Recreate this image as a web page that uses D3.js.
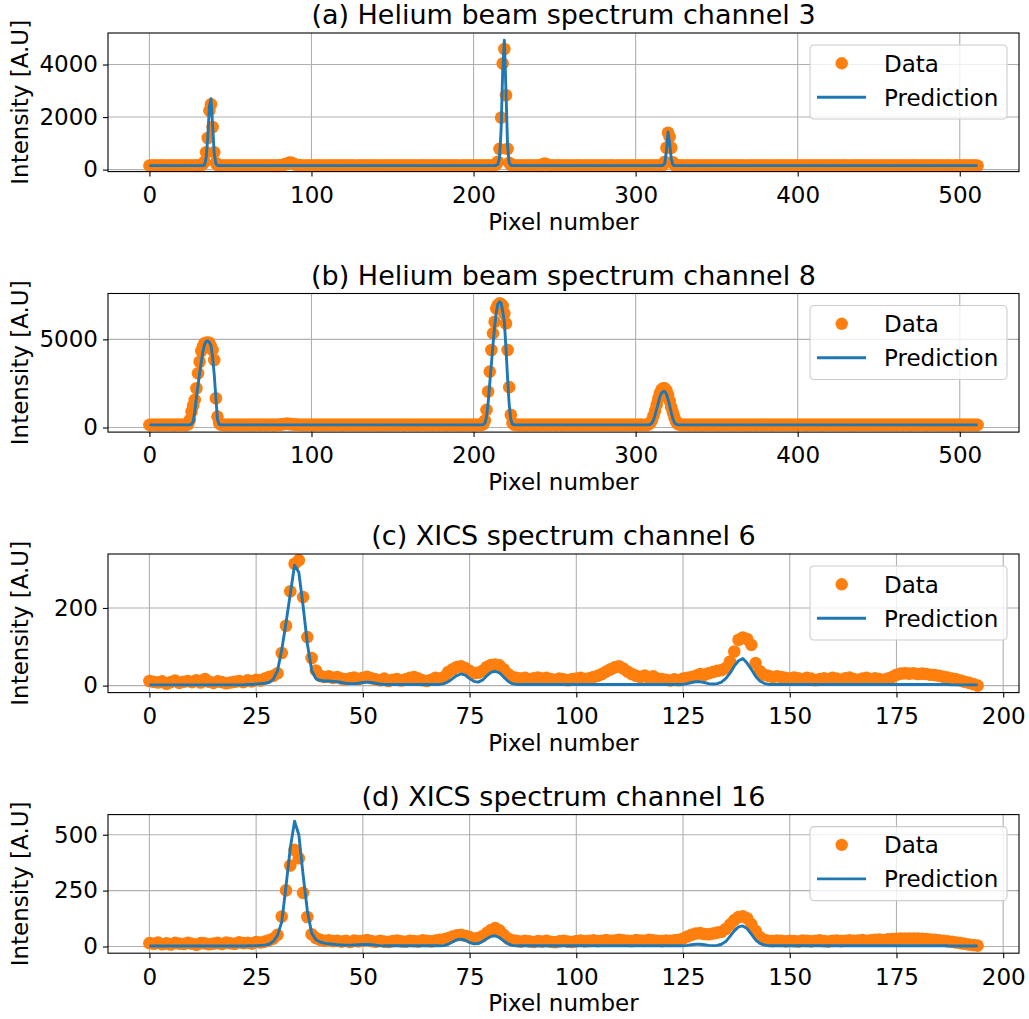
<!DOCTYPE html>
<html>
<head>
<meta charset="utf-8">
<script src="https://cdn.jsdelivr.net/npm/d3@7"></script>
<style>
  body { margin: 0; background: #fff; }
  svg { display: block; font-family: "DejaVu Sans", sans-serif; }
</style>
</head>
<body>
<div id="chart"></div>
<script>

// ---- chart data (index in the array = pixel number) ----

const panelTitles = [
    "(a) Helium beam spectrum channel 3",
    "(b) Helium beam spectrum channel 8",
    "(c) XICS spectrum channel 6",
    "(d) XICS spectrum channel 16"
];
const xLabel = "Pixel number";
const yLabel = "Intensity [A.U]";
const legendLabels = ["Data", "Prediction"];

const heliumXTicks = [0, 100, 200, 300, 400, 500];
const xicsXTicks = [0, 25, 50, 75, 100, 125, 150, 175, 200];
const ch3YTicks = [0, 2000, 4000];
const ch8YTicks = [0, 5000];
const ch6YTicks = [0, 200];
const ch16YTicks = [0, 250, 500];

// helium beam, channel 3 (512 pixels)
const heCh3Data = [
    152,148,150,155,149,151,147,153,150,156,148,151,149,154,150,147,
    151,153,149,150,155,148,152,150,147,153,151,149,156,150,152,158,
    175,210,300,660,1200,2250,2490,1620,660,250,170,155,150,148,153,151,
    149,152,150,147,154,151,148,150,153,149,151,155,148,150,152,149,
    151,147,153,150,149,152,156,148,150,151,149,153,150,147,152,155,
    158,165,175,190,210,235,255,265,250,225,195,175,162,155,151,149,
    152,148,150,155,149,151,147,153,150,156,148,151,149,154,150,147,
    151,153,149,150,155,148,152,150,147,153,151,149,156,150,152,149,
    149,152,150,147,154,151,148,150,153,149,151,155,148,150,152,149,
    151,147,153,150,149,152,156,148,150,151,149,153,150,147,152,155,
    152,148,150,155,149,151,147,153,150,156,148,151,149,154,150,147,
    151,153,149,150,155,148,152,150,147,153,151,149,156,150,152,149,
    149,152,150,147,154,151,148,150,153,149,151,155,148,150,152,149,
    150,152,149,153,158,170,200,300,790,1980,4040,4590,2830,790,260,170,
    155,151,149,152,150,148,153,150,147,151,154,149,150,152,148,151,
    153,158,175,210,230,205,170,155,150,148,152,150,149,153,151,147,
    152,148,150,155,149,151,147,153,150,156,148,151,149,154,150,147,
    151,153,149,150,155,148,152,150,147,153,151,149,156,150,152,149,
    149,152,150,147,154,151,148,150,153,149,151,155,148,150,152,149,
    151,147,153,150,149,152,156,148,150,151,149,153,158,180,300,830,
    1400,1240,830,280,175,155,151,149,152,150,148,153,150,147,151,154,
    152,148,150,155,149,151,147,153,150,156,148,151,149,154,150,147,
    151,153,149,150,155,148,152,150,147,153,151,149,156,150,152,149,
    149,152,150,147,154,151,148,150,153,149,151,155,148,150,152,149,
    151,147,153,150,149,152,156,148,150,151,149,153,150,147,152,155,
    152,148,150,155,149,151,147,153,150,156,148,151,149,154,150,147,
    151,153,149,150,155,148,152,150,147,153,151,149,156,150,152,149,
    149,152,150,147,154,151,148,150,153,149,151,155,148,150,152,149,
    151,147,153,150,149,152,156,148,150,151,149,153,150,147,152,155,
    152,148,150,155,149,151,147,153,150,156,148,151,149,154,150,147,
    151,153,149,150,155,148,152,150,147,153,151,149,156,150,152,149,
    149,152,150,147,154,151,148,150,153,149,151,155,148,150,152,149
];
const heCh3Pred = [
    150,150,150,150,150,150,150,150,150,150,150,150,150,150,150,150,
    150,150,150,150,150,150,150,150,150,150,150,150,150,150,150,150,
    150,155,170,450,1200,2400,2700,1700,600,220,160,152,150,150,150,150,
    150,150,150,150,150,150,150,150,150,150,150,150,150,150,150,150,
    150,150,150,150,150,150,150,150,150,150,150,150,150,150,150,150,
    150,150,150,150,150,150,150,150,150,150,150,150,150,150,150,150,
    150,150,150,150,150,150,150,150,150,150,150,150,150,150,150,150,
    150,150,150,150,150,150,150,150,150,150,150,150,150,150,150,150,
    150,150,150,150,150,150,150,150,150,150,150,150,150,150,150,150,
    150,150,150,150,150,150,150,150,150,150,150,150,150,150,150,150,
    150,150,150,150,150,150,150,150,150,150,150,150,150,150,150,150,
    150,150,150,150,150,150,150,150,150,150,150,150,150,150,150,150,
    150,150,150,150,150,150,150,150,150,150,150,150,150,150,150,150,
    150,150,150,150,150,150,165,200,450,1500,3800,4930,3000,900,260,165,
    150,150,150,150,150,150,150,150,150,150,150,150,150,150,150,150,
    150,150,150,150,150,150,150,150,150,150,150,150,150,150,150,150,
    150,150,150,150,150,150,150,150,150,150,150,150,150,150,150,150,
    150,150,150,150,150,150,150,150,150,150,150,150,150,150,150,150,
    150,150,150,150,150,150,150,150,150,150,150,150,150,150,150,150,
    150,150,150,150,150,150,150,150,150,150,150,150,150,170,250,700,
    1430,1000,400,180,155,150,150,150,150,150,150,150,150,150,150,150,
    150,150,150,150,150,150,150,150,150,150,150,150,150,150,150,150,
    150,150,150,150,150,150,150,150,150,150,150,150,150,150,150,150,
    150,150,150,150,150,150,150,150,150,150,150,150,150,150,150,150,
    150,150,150,150,150,150,150,150,150,150,150,150,150,150,150,150,
    150,150,150,150,150,150,150,150,150,150,150,150,150,150,150,150,
    150,150,150,150,150,150,150,150,150,150,150,150,150,150,150,150,
    150,150,150,150,150,150,150,150,150,150,150,150,150,150,150,150,
    150,150,150,150,150,150,150,150,150,150,150,150,150,150,150,150,
    150,150,150,150,150,150,150,150,150,150,150,150,150,150,150,150,
    150,150,150,150,150,150,150,150,150,150,150,150,150,150,150,150,
    150,150,150,150,150,150,150,150,150,150,150,150,150,150,150,150
];

// helium beam, channel 8 (512 pixels)
const heCh8Data = [
    152,148,150,155,149,151,147,153,150,156,148,151,149,154,150,147,
    151,153,149,150,155,148,152,150,200,450,905,1250,1570,2230,3080,3730,
    4340,4600,4775,4800,4820,4810,4600,4390,3830,1660,620,250,170,155,150,152,
    149,152,150,147,154,151,148,150,153,149,151,155,148,150,152,149,
    151,147,153,150,149,152,156,148,150,151,149,153,150,147,152,155,
    160,170,185,200,210,212,205,195,185,175,168,162,158,155,152,150,
    152,148,150,155,149,151,147,153,150,156,148,151,149,154,150,147,
    151,153,149,150,155,148,152,150,147,153,151,149,156,150,152,149,
    149,152,150,147,154,151,148,150,153,149,151,155,148,150,152,149,
    151,147,153,150,149,152,156,148,150,151,149,153,150,147,152,155,
    152,148,150,155,149,151,147,153,150,156,148,151,149,154,150,147,
    151,153,149,150,155,148,152,150,147,153,151,149,156,150,152,149,
    149,152,150,147,154,151,148,150,153,149,151,155,148,150,200,400,
    1000,2040,3170,4400,5340,6000,6750,6950,7040,7000,6900,6470,5900,4400,2290,720,
    250,170,155,152,150,148,153,150,147,151,154,149,150,152,148,151,
    152,148,150,155,149,151,147,153,150,156,148,151,149,154,150,147,
    151,153,149,150,155,148,152,150,147,153,151,149,156,150,152,149,
    149,152,150,147,154,151,148,150,153,149,151,155,148,150,152,149,
    151,147,153,150,149,152,156,148,150,151,149,153,150,147,152,155,
    151,147,153,150,180,250,400,650,950,1300,1650,1950,2150,2230,2220,2100,
    1850,1500,1150,850,550,330,210,170,155,150,148,153,150,147,151,154,
    152,148,150,155,149,151,147,153,150,156,148,151,149,154,150,147,
    151,153,149,150,155,148,152,150,147,153,151,149,156,150,152,149,
    149,152,150,147,154,151,148,150,153,149,151,155,148,150,152,149,
    151,147,153,150,149,152,156,148,150,151,149,153,150,147,152,155,
    152,148,150,155,149,151,147,153,150,156,148,151,149,154,150,147,
    151,153,149,150,155,148,152,150,147,153,151,149,156,150,152,149,
    149,152,150,147,154,151,148,150,153,149,151,155,148,150,152,149,
    151,147,153,150,149,152,156,148,150,151,149,153,150,147,152,155,
    152,148,150,155,149,151,147,153,150,156,148,151,149,154,150,147,
    151,153,149,150,155,148,152,150,147,153,151,149,156,150,152,149,
    149,152,150,147,154,151,148,150,153,149,151,155,148,150,152,149
];
const heCh8Pred = [
    150,150,150,150,150,150,150,150,150,150,150,150,150,150,150,150,
    150,150,150,150,150,150,150,150,150,150,200,340,900,1700,2400,3080,
    3700,4300,4700,4880,4920,4820,4650,4000,3000,1700,450,180,155,150,150,150,
    150,150,150,150,150,150,150,150,150,150,150,150,150,150,150,150,
    150,150,150,150,150,150,150,150,150,150,150,150,150,150,150,150,
    150,150,150,150,150,150,150,150,150,150,150,150,150,150,150,150,
    150,150,150,150,150,150,150,150,150,150,150,150,150,150,150,150,
    150,150,150,150,150,150,150,150,150,150,150,150,150,150,150,150,
    150,150,150,150,150,150,150,150,150,150,150,150,150,150,150,150,
    150,150,150,150,150,150,150,150,150,150,150,150,150,150,150,150,
    150,150,150,150,150,150,150,150,150,150,150,150,150,150,150,150,
    150,150,150,150,150,150,150,150,150,150,150,150,150,150,150,150,
    150,150,150,150,150,150,150,150,150,150,150,150,150,150,170,250,
    600,1400,2500,3600,4700,5700,6500,7000,7130,7050,6600,6000,4500,2800,1300,450,
    180,155,150,150,150,150,150,150,150,150,150,150,150,150,150,150,
    150,150,150,150,150,150,150,150,150,150,150,150,150,150,150,150,
    150,150,150,150,150,150,150,150,150,150,150,150,150,150,150,150,
    150,150,150,150,150,150,150,150,150,150,150,150,150,150,150,150,
    150,150,150,150,150,150,150,150,150,150,150,150,150,150,150,150,
    150,150,150,150,150,170,250,420,700,1050,1400,1750,1950,2040,2040,1900,
    1600,1250,850,500,280,180,160,150,150,150,150,150,150,150,150,150,
    150,150,150,150,150,150,150,150,150,150,150,150,150,150,150,150,
    150,150,150,150,150,150,150,150,150,150,150,150,150,150,150,150,
    150,150,150,150,150,150,150,150,150,150,150,150,150,150,150,150,
    150,150,150,150,150,150,150,150,150,150,150,150,150,150,150,150,
    150,150,150,150,150,150,150,150,150,150,150,150,150,150,150,150,
    150,150,150,150,150,150,150,150,150,150,150,150,150,150,150,150,
    150,150,150,150,150,150,150,150,150,150,150,150,150,150,150,150,
    150,150,150,150,150,150,150,150,150,150,150,150,150,150,150,150,
    150,150,150,150,150,150,150,150,150,150,150,150,150,150,150,150,
    150,150,150,150,150,150,150,150,150,150,150,150,150,150,150,150,
    150,150,150,150,150,150,150,150,150,150,150,150,150,150,150,150
];

// XICS, channel 6 (195 pixels)
const xicsCh6Data = [
    12,10,8,11,5,9,13,7,10,12,9,14,8,17,10,
    7,11,9,6,8,10,12,9,14,11,15,13,18,22,25,
    32,84,154,243,314,323,228,125,71,39,25,22,24,20,22,
    18,16,19,21,17,20,23,19,16,14,18,12,15,17,13,
    16,20,22,18,14,12,15,20,18,22,35,42,48,50,45,
    38,32,33,38,48,53,54,52,42,30,22,20,18,20,17,
    19,21,18,20,17,15,18,16,14,17,18,20,17,19,22,
    25,30,36,42,47,50,44,36,30,25,22,26,20,24,18,
    17,15,13,16,14,18,20,22,25,30,28,32,35,38,40,
    45,62,88,118,124,120,105,58,37,28,25,22,24,22,20,
    18,21,19,16,20,18,14,17,19,16,20,18,15,19,21,
    17,15,18,20,16,19,17,15,18,22,28,31,32,31,32,
    30,31,30,28,27,25,23,21,18,16,13,10,7,4,0
];
const xicsCh6Pred = [
    2,2,2,2,2,2,2,2,2,2,2,2,2,2,2,
    2,2,2,2,2,2,2,2,3,3,4,5,6,8,16,
    38,92,162,236,310,292,205,108,40,18,13,12,12,11,10,
    8,6,5,5,6,8,9,8,6,4,3,3,3,3,3,
    3,3,3,3,3,3,3,3,3,5,10,18,26,30,27,
    18,11,9,14,25,34,37,33,22,11,5,3,3,3,3,
    3,3,3,3,3,3,3,3,3,3,3,3,3,3,3,
    3,3,3,3,3,3,3,3,3,3,3,3,3,3,3,
    3,3,3,3,3,3,5,8,10,10,8,5,4,5,9,
    18,32,50,64,70,58,42,24,12,6,3,3,3,3,3,
    3,3,3,3,3,3,3,3,3,3,3,3,3,3,3,
    3,3,3,3,3,3,3,3,3,3,3,3,3,3,3,
    3,3,3,3,3,3,3,3,2,2,2,2,2,2,2
];

// XICS, channel 16 (195 pixels)
const xicsCh16Data = [
    15,12,18,10,14,9,16,13,11,17,12,8,15,14,10,
    13,16,11,18,14,12,19,15,17,13,20,18,22,28,35,
    52,134,251,362,432,395,240,132,55,38,30,25,28,24,26,
    22,25,20,27,23,26,29,24,21,25,22,20,24,27,23,
    21,26,24,22,28,25,23,27,30,32,38,45,50,52,48,
    42,36,38,46,60,74,82,72,52,36,28,25,22,26,23,
    20,24,22,25,21,19,23,26,22,20,24,27,23,25,28,
    24,26,29,25,27,30,28,26,24,29,27,25,30,28,26,
    24,27,25,28,30,35,45,52,58,60,56,55,58,62,66,
    78,98,118,132,135,126,100,70,42,30,26,24,27,25,23,
    26,24,22,27,25,23,26,28,24,22,25,27,24,26,28,
    25,27,29,26,28,30,31,29,32,33,34,35,36,35,36,
    35,34,33,31,30,28,26,23,21,18,15,12,9,6,4
];
const xicsCh16Pred = [
    2,2,2,2,2,2,2,2,2,2,2,2,2,2,2,
    2,2,2,2,2,2,2,2,3,3,4,5,6,10,22,
    50,110,270,440,560,500,320,160,60,30,20,15,12,10,8,
    7,6,6,7,8,9,9,8,6,4,3,3,3,3,3,
    3,3,3,3,3,3,3,3,3,4,10,20,30,33,28,
    18,12,13,22,35,45,48,40,25,12,5,3,3,3,3,
    3,3,3,3,3,3,3,3,3,3,3,3,3,3,3,
    3,3,3,3,3,3,3,3,3,3,3,3,3,3,3,
    3,3,3,3,3,3,5,8,10,10,8,5,4,5,10,
    22,45,70,88,92,80,55,30,14,7,3,3,3,3,3,
    3,3,3,3,3,3,3,3,3,3,3,3,3,3,3,
    3,3,3,3,3,3,3,3,3,3,3,3,3,3,3,
    3,3,3,3,3,3,3,3,2,2,2,2,2,2,2
];

// ---- drawing ----

const WIDTH = 1029;
const HEIGHT = 1019;
const ORANGE = "#ff7f0e";
const BLUE = "#1f77b4";

class SpectrumPanel {

    constructor(svg, id, top, title, xDomain, xTicks, yDomain, yTicks, data, prediction){
        this.svg = svg;
        this.id = id;
        this.top = top;
        this.height = 138.6;
        this.left = 108;
        this.right = 1019;
        this.title = title;
        this.xDomain = xDomain;
        this.xTicks = xTicks;
        this.yDomain = yDomain;
        this.yTicks = yTicks;
        this.data = data;
        this.prediction = prediction;
    }

    createChart(){
        const bottom = this.top + this.height;
        const g = this.svg.append("g");

        this.xScale = d3.scaleLinear()
            .domain(this.xDomain)
            .range([this.left, this.right]);

        this.yScale = d3.scaleLinear()
            .domain(this.yDomain)
            .range([bottom, this.top]);

        // grid lines
        const grid = g.append("g")
            .attr("stroke", "#b0b0b0")
            .attr("stroke-width", 1.1);
        grid.selectAll(".gx")
            .data(this.xTicks)
            .join("line")
            .attr("x1", (d) => this.xScale(d))
            .attr("x2", (d) => this.xScale(d))
            .attr("y1", this.top)
            .attr("y2", bottom);
        grid.selectAll(".gy")
            .data(this.yTicks)
            .join("line")
            .attr("x1", this.left)
            .attr("x2", this.right)
            .attr("y1", (d) => this.yScale(d))
            .attr("y2", (d) => this.yScale(d));

        // clip to the axes box
        this.svg.append("clipPath")
            .attr("id", "clip" + this.id)
            .append("rect")
            .attr("x", this.left)
            .attr("y", this.top)
            .attr("width", this.right - this.left)
            .attr("height", this.height);

        const plot = g.append("g").attr("clip-path", `url(#clip${this.id})`);

        // data points
        plot.append("g")
            .attr("fill", ORANGE)
            .selectAll("circle")
            .data(this.data)
            .join("circle")
            .attr("cx", (d, i) => this.xScale(i))
            .attr("cy", (d) => this.yScale(d))
            .attr("r", 6.3);

        // prediction line
        const line = d3.line()
            .x((d, i) => this.xScale(i))
            .y((d) => this.yScale(d));
        plot.append("path")
            .datum(this.prediction)
            .attr("fill", "none")
            .attr("stroke", BLUE)
            .attr("stroke-width", 2.9)
            .attr("stroke-linejoin", "round")
            .attr("d", line);

        // Add the x-axis.
        const xAxis = g.append("g")
            .attr("transform", `translate(0,${bottom})`)
            .call(d3.axisBottom(this.xScale)
                .tickValues(this.xTicks)
                .tickFormat(d3.format("d"))
                .tickSize(5)
                .tickPadding(10));
        this._styleAxis(xAxis);

        // Add the y-axis.
        const yAxis = g.append("g")
            .attr("transform", `translate(${this.left},0)`)
            .call(d3.axisLeft(this.yScale)
                .tickValues(this.yTicks)
                .tickFormat(d3.format("d"))
                .tickSize(5)
                .tickPadding(5));
        this._styleAxis(yAxis);

        // spines
        g.append("rect")
            .attr("x", this.left)
            .attr("y", this.top)
            .attr("width", this.right - this.left)
            .attr("height", this.height)
            .attr("fill", "none")
            .attr("stroke", "black")
            .attr("stroke-width", 1.1);

        // title and axis labels
        g.append("text")
            .attr("x", (this.left + this.right) / 2)
            .attr("y", this.top - 9)
            .attr("text-anchor", "middle")
            .attr("font-size", 27)
            .text(this.title);

        g.append("text")
            .attr("x", (this.left + this.right) / 2)
            .attr("y", bottom + 58)
            .attr("text-anchor", "middle")
            .attr("font-size", 23)
            .text(xLabel);

        g.append("text")
            .attr("transform", `translate(28,${this.top + this.height / 2}) rotate(-90)`)
            .attr("text-anchor", "middle")
            .attr("font-size", 23)
            .text(yLabel);

        this._appendLegend(g);
    }

    _styleAxis(axis){
        axis.select(".domain").remove();
        axis.attr("font-family", null).attr("font-size", null);
        axis.selectAll(".tick line").attr("stroke", "black").attr("stroke-width", 1.1);
        axis.selectAll(".tick text").attr("fill", "black").attr("font-size", 23);
    }

    _appendLegend(g){
        const w = 197, h = 74;
        const lg = g.append("g")
            .attr("transform", `translate(${this.right - 12 - w},${this.top + 12})`);
        lg.append("rect")
            .attr("width", w)
            .attr("height", h)
            .attr("rx", 4)
            .attr("fill", "white")
            .attr("fill-opacity", 0.8)
            .attr("stroke", "#cccccc")
            .attr("stroke-width", 1.1);
        lg.append("circle")
            .attr("cx", 31.7)
            .attr("cy", 18.3)
            .attr("r", 6.2)
            .attr("fill", ORANGE);
        lg.append("line")
            .attr("x1", 7)
            .attr("x2", 56)
            .attr("y1", 52.3)
            .attr("y2", 52.3)
            .attr("stroke", BLUE)
            .attr("stroke-width", 2.9);
        lg.selectAll("text")
            .data(legendLabels)
            .join("text")
            .attr("x", 74)
            .attr("y", (d, i) => i === 0 ? 18.3 : 52.3)
            .attr("dy", "0.36em")
            .attr("font-size", 23)
            .text((d) => d);
    }
}

const svg = d3.select("#chart")
    .append("svg")
    .attr("width", WIDTH)
    .attr("height", HEIGHT);
svg.append("rect").attr("width", WIDTH).attr("height", HEIGHT).attr("fill", "white");

const heliumDomain = [-25.55, 536.55];
const xicsDomain = [-9.7, 203.7];

new SpectrumPanel(svg, 0, 33, panelTitles[0], heliumDomain, heliumXTicks,
    [-76, 5200], ch3YTicks, heCh3Data, heCh3Pred).createChart();
new SpectrumPanel(svg, 1, 293.5, panelTitles[1], heliumDomain, heliumXTicks,
    [-260, 7600], ch8YTicks, heCh8Data, heCh8Pred).createChart();
new SpectrumPanel(svg, 2, 554, panelTitles[2], xicsDomain, xicsXTicks,
    [-18, 339], ch6YTicks, xicsCh6Data, xicsCh6Pred).createChart();
new SpectrumPanel(svg, 3, 814.6, panelTitles[3], xicsDomain, xicsXTicks,
    [-30, 590], ch16YTicks, xicsCh16Data, xicsCh16Pred).createChart();

</script>
</body>
</html>
